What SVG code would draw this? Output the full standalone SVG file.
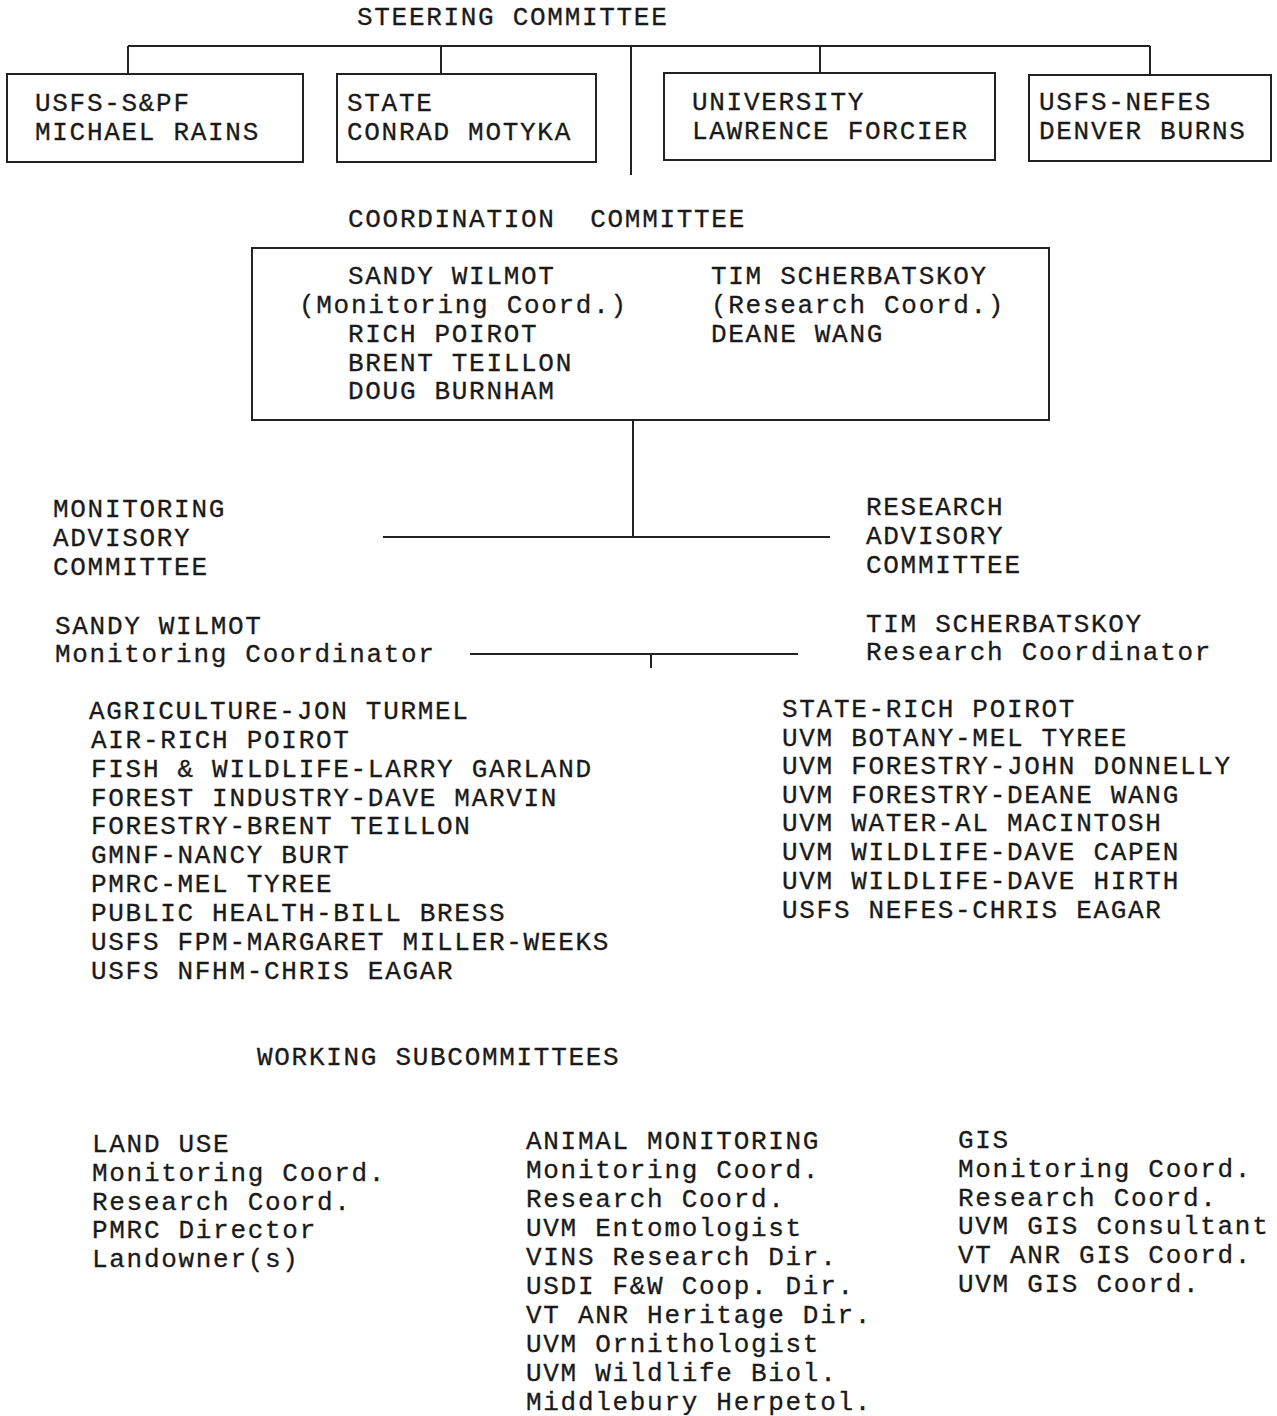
<svg xmlns="http://www.w3.org/2000/svg" width="1277" height="1416" viewBox="0 0 1277 1416">
<style>
text{font-family:"Liberation Mono","Courier New",monospace;font-size:26px;letter-spacing:1.7px;fill:#1a1a1a;stroke:#1a1a1a;stroke-width:0.3px;white-space:pre}
.box{fill:none;stroke:#222;stroke-width:2}
.ln{fill:none;stroke:#222;stroke-width:2}
</style>
<rect width="1277" height="1416" fill="#fff"/>
<g id="connectors">
<path class="ln" d="M128 46H1150M128 46V75M441 46V75M631 46V175M820 46V74M1150 46V75"/>
<path class="ln" d="M633 420V537M383 537H830"/>
<path class="ln" d="M470 654H798M651 654V668"/>
</g>
<g id="steering"><text x="357" y="25">STEERING COMMITTEE</text></g>
<g id="usfs-spf"><rect class="box" x="7" y="74" width="296" height="88"/><text x="35" y="111">USFS-S&amp;PF</text><text x="35" y="140">MICHAEL RAINS</text></g>
<g id="state"><rect class="box" x="337" y="74" width="259" height="88"/><text x="347" y="111">STATE</text><text x="347" y="140">CONRAD MOTYKA</text></g>
<g id="university"><rect class="box" x="664" y="73" width="331" height="87"/><text x="692" y="110">UNIVERSITY</text><text x="692" y="139">LAWRENCE FORCIER</text></g>
<g id="usfs-nefes"><rect class="box" x="1029" y="75" width="242" height="86"/><text x="1039" y="110">USFS-NEFES</text><text x="1039" y="139">DENVER BURNS</text></g>
<g id="coordination">
<text x="348" y="227" xml:space="preserve">COORDINATION  COMMITTEE</text>
<rect class="box" x="252" y="248" width="797" height="172"/>
<text x="348" y="284">SANDY WILMOT</text>
<text x="299" y="313">(Monitoring Coord.)</text>
<text x="348" y="342">RICH POIROT</text>
<text x="348" y="371">BRENT TEILLON</text>
<text x="348" y="399">DOUG BURNHAM</text>
<text x="711" y="284">TIM SCHERBATSKOY</text>
<text x="711" y="313">(Research Coord.)</text>
<text x="711" y="342">DEANE WANG</text>
</g>
<g id="monitoring-advisory">
<text x="53" y="517">MONITORING</text>
<text x="53" y="546">ADVISORY</text>
<text x="53" y="575">COMMITTEE</text>
<text x="55" y="634">SANDY WILMOT</text>
<text x="55" y="662">Monitoring Coordinator</text>
<text x="89" y="719">AGRICULTURE-JON TURMEL</text>
<text x="91" y="748">AIR-RICH POIROT</text>
<text x="91" y="777">FISH &amp; WILDLIFE-LARRY GARLAND</text>
<text x="91" y="806">FOREST INDUSTRY-DAVE MARVIN</text>
<text x="91" y="834">FORESTRY-BRENT TEILLON</text>
<text x="91" y="863">GMNF-NANCY BURT</text>
<text x="91" y="892">PMRC-MEL TYREE</text>
<text x="91" y="921">PUBLIC HEALTH-BILL BRESS</text>
<text x="91" y="950">USFS FPM-MARGARET MILLER-WEEKS</text>
<text x="91" y="979">USFS NFHM-CHRIS EAGAR</text>
</g>
<g id="research-advisory">
<text x="866" y="515">RESEARCH</text>
<text x="866" y="544">ADVISORY</text>
<text x="866" y="573">COMMITTEE</text>
<text x="866" y="632">TIM SCHERBATSKOY</text>
<text x="866" y="660">Research Coordinator</text>
<text x="782" y="717">STATE-RICH POIROT</text>
<text x="782" y="746">UVM BOTANY-MEL TYREE</text>
<text x="782" y="774">UVM FORESTRY-JOHN DONNELLY</text>
<text x="782" y="803">UVM FORESTRY-DEANE WANG</text>
<text x="782" y="831">UVM WATER-AL MACINTOSH</text>
<text x="782" y="860">UVM WILDLIFE-DAVE CAPEN</text>
<text x="782" y="889">UVM WILDLIFE-DAVE HIRTH</text>
<text x="782" y="918">USFS NEFES-CHRIS EAGAR</text>
</g>
<g id="working"><text x="257" y="1065">WORKING SUBCOMMITTEES</text></g>
<g id="land-use">
<text x="92" y="1152">LAND USE</text>
<text x="92" y="1181">Monitoring Coord.</text>
<text x="92" y="1210">Research Coord.</text>
<text x="92" y="1238">PMRC Director</text>
<text x="92" y="1267">Landowner(s)</text>
</g>
<g id="animal-monitoring">
<text x="526" y="1149">ANIMAL MONITORING</text>
<text x="526" y="1178">Monitoring Coord.</text>
<text x="526" y="1207">Research Coord.</text>
<text x="526" y="1236">UVM Entomologist</text>
<text x="526" y="1265">VINS Research Dir.</text>
<text x="526" y="1294">USDI F&amp;W Coop. Dir.</text>
<text x="526" y="1323">VT ANR Heritage Dir.</text>
<text x="526" y="1352">UVM Ornithologist</text>
<text x="526" y="1381">UVM Wildlife Biol.</text>
<text x="526" y="1410">Middlebury Herpetol.</text>
</g>
<g id="gis">
<text x="958" y="1148">GIS</text>
<text x="958" y="1177">Monitoring Coord.</text>
<text x="958" y="1206">Research Coord.</text>
<text x="958" y="1234">UVM GIS Consultant</text>
<text x="958" y="1263">VT ANR GIS Coord.</text>
<text x="958" y="1292">UVM GIS Coord.</text>
</g>
</svg>
